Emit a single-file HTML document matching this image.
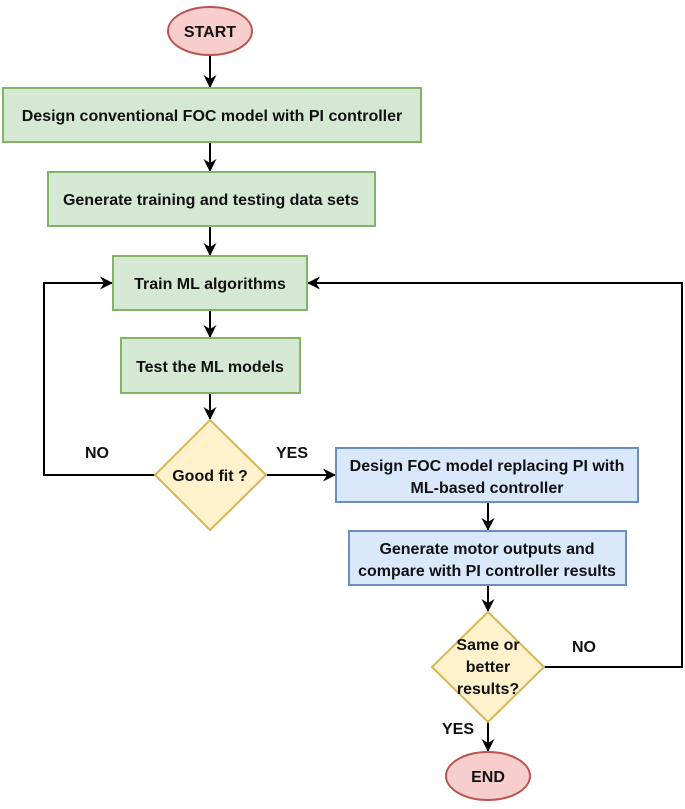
<!DOCTYPE html>
<html><head><meta charset="utf-8"><style>
body{margin:0;background:#fff;}
svg{display:block;}
text{font-family:"Liberation Sans",Arial,sans-serif;font-weight:bold;font-size:16px;fill:#111;}
</style></head><body>
<svg width="685" height="809" viewBox="0 0 685 809" xmlns="http://www.w3.org/2000/svg">
<defs><marker id="a" markerWidth="13" markerHeight="13" refX="12" refY="6.5" orient="auto" markerUnits="userSpaceOnUse"><path d="M0,0 L13,6.5 L0,13 L4,6.5 z" fill="#000"/></marker></defs>
<g stroke="#000" stroke-width="2" fill="none">
<line x1="210" y1="55" x2="210" y2="87" marker-end="url(#a)"/>
<line x1="210" y1="142" x2="210" y2="171" marker-end="url(#a)"/>
<line x1="210" y1="226" x2="210" y2="255" marker-end="url(#a)"/>
<line x1="210" y1="310" x2="210" y2="337" marker-end="url(#a)"/>
<line x1="210" y1="393" x2="210" y2="419" marker-end="url(#a)"/>
<polyline points="155,475 44,475 44,283 112,283" marker-end="url(#a)"/>
<line x1="266" y1="475" x2="335" y2="475" marker-end="url(#a)"/>
<line x1="488" y1="502" x2="488" y2="530" marker-end="url(#a)"/>
<line x1="488" y1="585" x2="488" y2="611" marker-end="url(#a)"/>
<polyline points="544,667 682,667 682,283 308,283" marker-end="url(#a)"/>
<line x1="488" y1="722" x2="488" y2="751" marker-end="url(#a)"/>
</g>
<ellipse cx="210" cy="31" rx="42" ry="24" fill="#f8cecc" stroke="#b85450" stroke-width="2"/>
<text x="210" y="37" text-anchor="middle">START</text>
<rect x="3" y="88" width="418" height="54" fill="#d5e8d4" stroke="#82b366" stroke-width="2"/>
<text x="212" y="121" text-anchor="middle">Design conventional FOC model with PI controller</text>
<rect x="48" y="172" width="327" height="54" fill="#d5e8d4" stroke="#82b366" stroke-width="2"/>
<text x="211" y="205" text-anchor="middle">Generate training and testing data sets</text>
<rect x="113" y="256" width="194" height="54" fill="#d5e8d4" stroke="#82b366" stroke-width="2"/>
<text x="210" y="289" text-anchor="middle">Train ML algorithms</text>
<rect x="121" y="338" width="179" height="55" fill="#d5e8d4" stroke="#82b366" stroke-width="2"/>
<text x="210" y="372" text-anchor="middle">Test the ML models</text>
<polygon points="210,420 266,475 210,530 155,475" fill="#fff2cc" stroke="#d6b656" stroke-width="2"/>
<text x="210" y="481" text-anchor="middle">Good fit ?</text>
<rect x="336" y="448" width="302" height="54" fill="#dae8fc" stroke="#6c8ebf" stroke-width="2"/>
<text x="487" y="471" text-anchor="middle">Design FOC model replacing PI with</text>
<text x="487" y="493" text-anchor="middle">ML-based controller</text>
<rect x="349" y="531" width="277" height="54" fill="#dae8fc" stroke="#6c8ebf" stroke-width="2"/>
<text x="487" y="554" text-anchor="middle">Generate motor outputs and</text>
<text x="487" y="576" text-anchor="middle">compare with PI controller results</text>
<polygon points="488,612 544,667 488,722 432,667" fill="#fff2cc" stroke="#d6b656" stroke-width="2"/>
<text x="488" y="650" text-anchor="middle">Same or</text>
<text x="488" y="672" text-anchor="middle">better</text>
<text x="488" y="694" text-anchor="middle">results?</text>
<ellipse cx="488" cy="776" rx="42" ry="24" fill="#f8cecc" stroke="#b85450" stroke-width="2"/>
<text x="488" y="782" text-anchor="middle">END</text>
<text x="97" y="458" text-anchor="middle">NO</text>
<text x="292" y="458" text-anchor="middle">YES</text>
<text x="584" y="652" text-anchor="middle">NO</text>
<text x="458" y="734" text-anchor="middle">YES</text>
</svg>
</body></html>
